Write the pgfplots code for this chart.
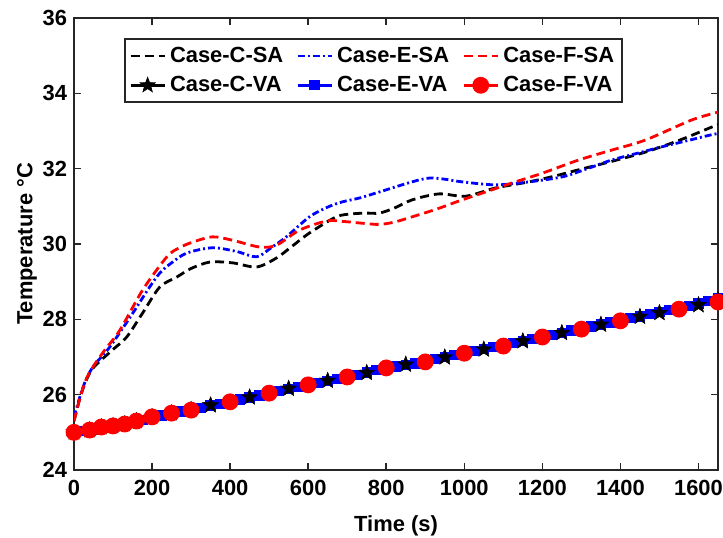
\documentclass[border=0pt]{standalone}
\usepackage{fontspec}
\setmainfont{Liberation Sans}
\usepackage{pgfplots}
\usepackage{pgfplotstable}
\pgfplotsset{compat=1.18}
\definecolor{axgray}{RGB}{38,38,38}
\pgfdeclareplotmark{fstar}{%
  \pgfpathmoveto{\pgfpointpolar{90}{\pgfplotmarksize}}%
  \pgfpathlineto{\pgfpointpolar{126}{0.42*\pgfplotmarksize}}%
  \pgfpathlineto{\pgfpointpolar{162}{\pgfplotmarksize}}%
  \pgfpathlineto{\pgfpointpolar{198}{0.42*\pgfplotmarksize}}%
  \pgfpathlineto{\pgfpointpolar{234}{\pgfplotmarksize}}%
  \pgfpathlineto{\pgfpointpolar{270}{0.42*\pgfplotmarksize}}%
  \pgfpathlineto{\pgfpointpolar{306}{\pgfplotmarksize}}%
  \pgfpathlineto{\pgfpointpolar{342}{0.42*\pgfplotmarksize}}%
  \pgfpathlineto{\pgfpointpolar{18}{\pgfplotmarksize}}%
  \pgfpathlineto{\pgfpointpolar{54}{0.42*\pgfplotmarksize}}%
  \pgfpathclose\pgfusepathqfillstroke}
\pgfplotstableread{
x y
0 25.0
40 25.06
70 25.14
100 25.17
130 25.22
160 25.30
200 25.41
250 25.51
300 25.60
350 25.72
450 25.93
550 26.16
650 26.37
750 26.58
850 26.80
950 26.99
1050 27.20
1150 27.42
1250 27.64
1350 27.86
1450 28.07
1500 28.17
1600 28.38
1650 28.50
}\caseCVA
\pgfplotstableread{
x y
0 25.0
25 25.04
50 25.08
75 25.13
100 25.16
125 25.20
150 25.26
175 25.33
200 25.40
225 25.45
250 25.50
275 25.55
300 25.60
325 25.65
350 25.71
375 25.76
400 25.81
425 25.87
450 25.93
475 25.98
500 26.04
525 26.09
550 26.15
575 26.20
600 26.26
625 26.31
650 26.37
675 26.42
700 26.47
725 26.53
750 26.59
775 26.65
800 26.71
825 26.75
850 26.79
875 26.83
900 26.88
925 26.94
950 27.00
975 27.05
1000 27.10
1025 27.16
1050 27.21
1075 27.26
1100 27.31
1125 27.37
1150 27.43
1175 27.48
1200 27.54
1225 27.59
1250 27.64
1275 27.70
1300 27.75
1325 27.81
1350 27.86
1375 27.92
1400 27.97
1425 28.03
1450 28.08
1475 28.14
1500 28.19
1525 28.25
1550 28.30
1575 28.36
1600 28.42
1625 28.48
1650 28.55
}\caseEVA
\begin{document}
\begin{tikzpicture}
\begin{axis}[
  scale only axis, width=322bp, height=226bp,
  xmin=0, xmax=1650, ymin=24, ymax=36,
  xtick={0,200,...,1600}, ytick={24,26,...,36},
  /pgf/number format/assume math mode=true,
  /pgf/number format/1000 sep={},
  tick label style={font=\fontsize{11}{13}\selectfont\bfseries},
  xticklabel style={yshift=-1.5bp},
  label style={font=\fontsize{11}{13}\selectfont\bfseries},
  xlabel={Time (s)}, ylabel={Temperature °C},
  xlabel style={yshift=-3bp},
  ylabel style={yshift=-4bp},
  axis line style={line width=1bp, color=axgray},
  major tick length=3.5bp, tick style={line width=0.8bp, color=axgray},
  legend columns=3,
  legend cell align=left,
  legend style={at={(0.078,0.956)}, anchor=north west, draw=axgray, line width=1bp,
    font=\fontsize{11}{13}\selectfont\bfseries, inner sep=2bp, row sep=1.5bp,
    /tikz/every even column/.append style={column sep=4.5bp}},
]
% SA curves
\addplot[black, line width=1.4bp, dash pattern=on 4.5bp off 2.5bp, smooth, tension=0.5] coordinates {
(0,25.3) (15,25.9) (30,26.35) (50,26.72) (100,27.2) (135,27.53) (176,28.17) (220,28.86) (263,29.12) (300,29.35) (348,29.52) (406,29.5) (468,29.39) (519,29.63) (560,29.95) (603,30.29) (672,30.72) (713,30.8) (750,30.82) (782,30.82) (820,30.95) (866,31.17) (935,31.33) (1004,31.27) (1081,31.49) (1166,31.65) (1230,31.8) (1293,31.97) (1380,32.2) (1464,32.44) (1550,32.75) (1633,33.1) (1650,33.17)};
\addplot[blue, line width=1.4bp, dash pattern=on 3.5bp off 1.5bp on 1bp off 1.5bp, smooth, tension=0.5] coordinates {
(0,25.4) (15,25.94) (30,26.38) (50,26.76) (92,27.27) (151,28.17) (190,28.8) (220,29.23) (250,29.5) (289,29.76) (355,29.9) (417,29.8) (468,29.66) (505,29.9) (544,30.19) (603,30.72) (650,30.98) (688,31.12) (731,31.22) (782,31.38) (866,31.65) (910,31.75) (950,31.72) (994,31.65) (1081,31.57) (1166,31.65) (1250,31.78) (1310,31.98) (1378,32.23) (1440,32.4) (1506,32.58) (1570,32.74) (1633,32.9) (1650,32.93)};
\addplot[red, line width=1.4bp, dash pattern=on 4.5bp off 2.5bp, smooth, tension=0.5] coordinates {
(0,25.3) (15,25.9) (30,26.38) (50,26.76) (80,27.2) (118,27.72) (176,28.78) (238,29.66) (270,29.9) (304,30.05) (355,30.19) (406,30.1) (475,29.92) (519,29.97) (578,30.37) (647,30.61) (688,30.6) (740,30.55) (782,30.52) (820,30.58) (866,30.72) (930,30.93) (994,31.17) (1060,31.4) (1122,31.62) (1200,31.88) (1293,32.23) (1380,32.5) (1464,32.76) (1582,33.29) (1650,33.5)};
% VA curves
\addplot[black, line width=1.4bp, mark=fstar, mark size=3.9bp, mark options={solid, fill=black, line width=0.4bp}] table {\caseCVA};
\addplot[blue, line width=1.4bp, mark=square*, mark size=1.9bp, mark options={solid, fill=blue}] table {\caseEVA};
\addplot[black, line width=1.4bp, mark=fstar, mark size=3.9bp, mark options={solid, fill=black, line width=0.4bp}, forget plot] table {\caseCVA};
\addplot[red, line width=1.6bp, mark=*, mark size=3.4bp, mark options={solid, fill=red}] coordinates {
(0,25.0) (40,25.06) (70,25.14) (100,25.17) (130,25.22) (160,25.30) (200,25.41) (250,25.51) (300,25.59) (400,25.81) (500,26.04) (600,26.26) (700,26.47) (800,26.71) (900,26.87) (1000,27.10) (1100,27.29) (1200,27.53) (1300,27.74) (1400,27.96) (1550,28.27) (1650,28.46)};
\legend{Case-C-SA, Case-E-SA, Case-F-SA, Case-C-VA, Case-E-VA, Case-F-VA}
\end{axis}
\pgfresetboundingbox
\path ([shift={(-37bp,-34bp)}]current axis.south west) rectangle ([shift={(2.5bp,9bp)}]current axis.north east);
\end{tikzpicture}
\end{document}
